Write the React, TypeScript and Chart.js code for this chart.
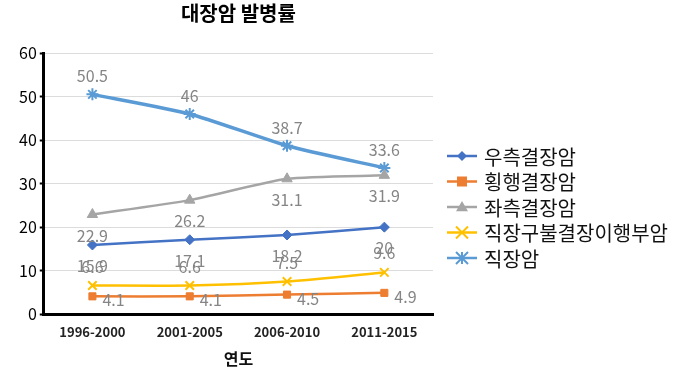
import React, { useEffect, useRef } from 'react';
import { Chart, registerables } from 'chart.js';
Chart.register(...registerables);

const categories = ['1996-2000', '2001-2005', '2006-2010', '2011-2015'];
const seriesNames = ['우측결장암', '횡행결장암', '좌측결장암', '직장구불결장이행부암', '직장암'];
const rightColon = [15.9, 17.1, 18.2, 20];
const transverseColon = [4.1, 4.1, 4.5, 4.9];
const leftColon = [22.9, 26.2, 31.1, 31.9];
const rectosigmoid = [6.6, 6.6, 7.5, 9.6];
const rectum = [50.5, 46, 38.7, 33.6];
const titleText = '대장암 발병률';
const xTitle = '연도';

const FONT = "'Noto Sans CJK KR', 'Noto Sans', sans-serif";
const colors = ['#4472C4', '#ED7D31', '#A5A5A5', '#FFC000', '#5B9BD5'];
const pointStyles = ['rectRot', 'rect', 'triangle', 'crossRot', 'star'];
const pointRadii = [5, 5, 6, 6, 6];
const lineWidths = [2.5, 2.5, 2.5, 2.5, 3.5];
// label placement: [dx, dy, align]
const labelPlace: [number, number, CanvasTextAlign][] = [
  [0, 21, 'center'],
  [10, 4, 'left'],
  [0, 21, 'center'],
  [0, -19, 'center'],
  [0, -18, 'center'],
];

function drawMarker(ctx: CanvasRenderingContext2D, style: string, x: number, y: number, r: number, color: string) {
  ctx.save();
  ctx.fillStyle = color;
  ctx.strokeStyle = color;
  ctx.lineWidth = 2;
  ctx.beginPath();
  if (style === 'rectRot') {
    ctx.moveTo(x, y - r); ctx.lineTo(x + r, y); ctx.lineTo(x, y + r); ctx.lineTo(x - r, y); ctx.closePath(); ctx.fill();
  } else if (style === 'rect') {
    ctx.rect(x - r, y - r, 2 * r, 2 * r); ctx.fill();
  } else if (style === 'triangle') {
    ctx.moveTo(x, y - r); ctx.lineTo(x + r, y + r * 0.7); ctx.lineTo(x - r, y + r * 0.7); ctx.closePath(); ctx.fill();
  } else if (style === 'crossRot') {
    ctx.moveTo(x - r, y - r); ctx.lineTo(x + r, y + r); ctx.moveTo(x + r, y - r); ctx.lineTo(x - r, y + r); ctx.stroke();
  } else if (style === 'star') {
    ctx.moveTo(x - r, y - r); ctx.lineTo(x + r, y + r); ctx.moveTo(x + r, y - r); ctx.lineTo(x - r, y + r);
    ctx.moveTo(x, y - r); ctx.lineTo(x, y + r); ctx.stroke();
  }
  ctx.restore();
}

const labelPlugin = {
  id: 'valueLabels',
  afterDatasetsDraw(chart: any) {
    const ctx = chart.ctx as CanvasRenderingContext2D;
    ctx.save();
    ctx.font = `16px ${FONT}`;
    ctx.fillStyle = '#858585';
    ctx.textBaseline = 'middle';
    chart.data.datasets.forEach((ds: any, i: number) => {
      const meta = chart.getDatasetMeta(i);
      const [dx, dy, align] = labelPlace[i];
      ctx.textAlign = align;
      meta.data.forEach((el: any, j: number) => {
        ctx.fillText(String(ds.data[j]), el.x + dx, el.y + dy);
      });
    });
    ctx.restore();
  },
};

const legendPlugin = {
  id: 'customLegend',
  afterDraw(chart: any) {
    const ctx = chart.ctx as CanvasRenderingContext2D;
    const x0 = chart.chartArea.right + 14;
    const y0 = 156;
    const step = 25.5;
    ctx.save();
    ctx.font = `20px ${FONT}`;
    ctx.textBaseline = 'middle';
    ctx.textAlign = 'left';
    seriesNames.forEach((name, i) => {
      const y = y0 + i * step;
      ctx.strokeStyle = colors[i];
      ctx.lineWidth = 2.5;
      ctx.beginPath();
      ctx.moveTo(x0, y);
      ctx.lineTo(x0 + 30, y);
      ctx.stroke();
      drawMarker(ctx, pointStyles[i], x0 + 15, y, pointRadii[i], colors[i]);
      ctx.fillStyle = '#111';
      ctx.fillText(name, x0 + 37, y + 1);
    });
    ctx.restore();
  },
};

export default function App() {
  const ref = useRef<HTMLCanvasElement>(null);
  useEffect(() => {
    const seriesData = [rightColon, transverseColon, leftColon, rectosigmoid, rectum];
    const chart = new Chart(ref.current!, {
      type: 'line',
      data: {
        labels: categories,
        datasets: seriesNames.map((name, i) => ({
          label: name,
          data: seriesData[i],
          borderColor: colors[i],
          backgroundColor: colors[i],
          borderWidth: lineWidths[i],
          pointStyle: pointStyles[i] as any,
          pointRadius: pointRadii[i],
          pointBorderWidth: i >= 3 ? 2 : 1,
          pointBackgroundColor: colors[i],
          pointBorderColor: colors[i],
          tension: 0.2,
          fill: false,
        })),
      },
      options: {
        responsive: false,
        animation: false,
        layout: { padding: { left: 16, right: 247, top: 0, bottom: 1 } },
        plugins: {
          legend: { display: false },
          tooltip: { enabled: false },
          title: {
            display: true,
            text: titleText,
            fullSize: false,
            color: '#000',
            font: { family: FONT, size: 20, weight: 'bold' },
            padding: { top: 1, bottom: 28 },
          },
        },
        scales: {
          x: {
            offset: true,
            grid: { drawOnChartArea: false, drawTicks: false },
            border: { display: true, color: '#000', width: 3 },
            ticks: { color: '#222', padding: 10, font: { family: FONT, size: 13, weight: 'bold' } },
            title: {
              display: true,
              text: xTitle,
              color: '#111',
              font: { family: FONT, size: 16, weight: 'bold' },
              padding: { top: 0, bottom: 4 },
            },
          },
          y: {
            min: 0,
            max: 60,
            ticks: { stepSize: 10, color: '#000', padding: 3, font: { family: FONT, size: 16 } },
            grid: { color: '#dcdcdc', lineWidth: 1, tickColor: '#000', tickLength: 4, tickWidth: 2 },
            border: { display: true, color: '#000', width: 3 },
          },
        },
      },
      plugins: [labelPlugin, legendPlugin],
    });
    return () => chart.destroy();
  }, []);
  return (
    <div style={{ position: 'absolute', left: 0, top: 0, width: 680, height: 374, background: '#fff' }}>
      <canvas ref={ref} width={680} height={374} style={{ display: 'block' }} />
    </div>
  );
}
